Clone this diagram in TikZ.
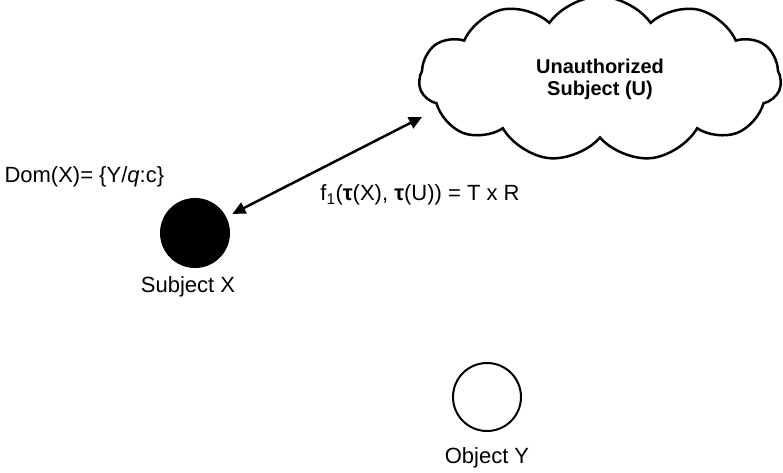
\documentclass[tikz,border=0pt]{standalone}
\usepackage{fontspec}
\setmainfont{Liberation Sans}
\usetikzlibrary{shapes.symbols}
\usetikzlibrary{arrows.meta}
\usetikzlibrary{positioning}
\tikzset{
	subject/.style={
		draw,
		circle,
		fill=black,
		line width=2pt,
		minimum size=68pt,
		inner sep=0pt,
	},
	object/.style={
		draw,
		circle,
		line width=2pt,
		minimum size=68pt,
		inner sep=0pt,
	},
	intruder/.style={
		draw,
		cloud,
		cloud puffs=11,
		cloud puff arc=110,
		cloud ignores aspect,
		line width=2.5pt,
		minimum width=362pt,
		minimum height=165pt,
		align=center,
		font=\fontsize{20}{22}\selectfont\bfseries,
	},
	caption/.style={
		font=\fontsize{22}{26}\selectfont,
	},
	link/.style={
		line width=2.5pt,
		{Triangle[length=13pt,width=12pt]}-{Triangle[length=13pt,width=12pt]},
	},
}

\begin{document}
\begin{tikzpicture}[x=1pt,y=-1pt]
		\useasboundingbox (0,0) rectangle (783,473);

		\node[subject] (X) at (195,233) {};
		\node[caption] (Xname) at (188,287) {Subject X};
		\node[caption,anchor=west] (dom) at (1,177) {Dom(X)= \{Y/\textit{q}:c\}};

		\node[object] (Y) at (487,397) {};
		\node[caption] (Yname) at (487,458) {Object Y};

		\node[intruder] (U) at (600,79) {Unauthorized\\Subject (U)};

		\coordinate (Utip) at (422,117);
		\draw[link,shorten <=7pt] (X) -- (Utip);
		\node[caption] (rel) at (420,195) {f\textsubscript{1}(\textbf{τ}(X), \textbf{τ}(U)) = T x R};

	\end{tikzpicture}
\end{document}
